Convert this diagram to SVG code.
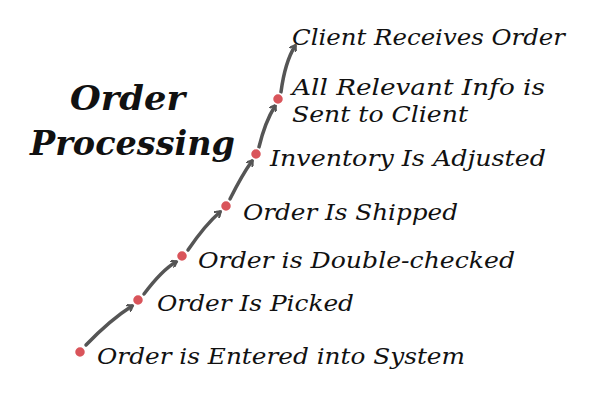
<svg xmlns="http://www.w3.org/2000/svg" width="600" height="409" viewBox="0 0 600 409">
<style>
.t{font-family:"DejaVu Serif","Liberation Serif",serif;font-style:italic;font-size:23px;fill:#111}
.h{font-family:"DejaVu Serif","Liberation Serif",serif;font-style:italic;font-weight:bold;font-size:34px;fill:#111}
.c{fill:none;stroke:#555;stroke-width:3.5;stroke-linecap:round;marker-end:url(#a)}
.d{fill:#d9545a;stroke:#fff;stroke-width:1.5}
</style>
<defs><marker id="a" markerWidth="8" markerHeight="8" refX="5" refY="4" orient="auto" markerUnits="userSpaceOnUse" viewBox="0 0 8 8"><path d="M1,0.5 L6,4 L1,7.5" fill="none" stroke="#555" stroke-width="2.2" stroke-linecap="round"/></marker></defs>
<rect width="600" height="409" fill="#fff"/>
<g id="title"><text class="h" x="70" y="110" textLength="115" lengthAdjust="spacingAndGlyphs">Order</text><text class="h" x="30" y="155" textLength="205" lengthAdjust="spacingAndGlyphs">Processing</text></g>
<g id="connectors">
<path class="c" d="M86,345 Q110,320 132,306"/>
<path class="c" d="M144,294 Q162,270 176,262"/>
<path class="c" d="M188,250 Q205,225 220,212"/>
<path class="c" d="M230,199 Q242,175 252,161"/>
<path class="c" d="M259,147 Q265,122 275,106"/>
<path class="c" d="M281,92 Q285,62 295,46"/>
</g>
<g id="n1"><circle class="d" cx="80" cy="352" r="5.5"/><text class="t" x="97" y="364" textLength="368" lengthAdjust="spacingAndGlyphs">Order is Entered into System</text></g>
<g id="n2"><circle class="d" cx="138" cy="300" r="5.5"/><text class="t" x="157" y="311" textLength="197" lengthAdjust="spacingAndGlyphs">Order Is Picked</text></g>
<g id="n3"><circle class="d" cx="182" cy="256" r="5.5"/><text class="t" x="198" y="268" textLength="317" lengthAdjust="spacingAndGlyphs">Order is Double-checked</text></g>
<g id="n4"><circle class="d" cx="226" cy="206" r="5.5"/><text class="t" x="243" y="220" textLength="215" lengthAdjust="spacingAndGlyphs">Order Is Shipped</text></g>
<g id="n5"><circle class="d" cx="256" cy="154" r="5.5"/><text class="t" x="270" y="166" textLength="276" lengthAdjust="spacingAndGlyphs">Inventory Is Adjusted</text></g>
<g id="n6"><circle class="d" cx="278" cy="99" r="5.5"/><text class="t" x="292" y="95" textLength="253" lengthAdjust="spacingAndGlyphs">All Relevant Info is</text><text class="t" x="292" y="122" textLength="176" lengthAdjust="spacingAndGlyphs">Sent to Client</text></g>
<g id="n7"><text class="t" x="292" y="45" textLength="273" lengthAdjust="spacingAndGlyphs">Client Receives Order</text></g>
</svg>
